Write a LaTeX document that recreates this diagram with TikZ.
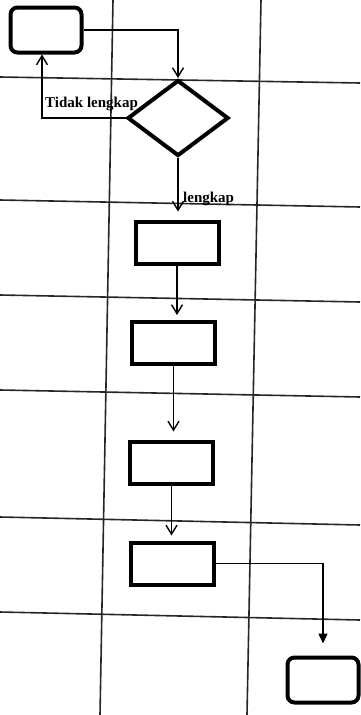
\documentclass[tikz,border=0pt]{standalone}
\usepackage{fontspec}
\setmainfont{Liberation Serif}
\usetikzlibrary{shapes.geometric,arrows.meta}
\begin{document}
\begin{tikzpicture}[x=1pt,y=-1pt,
  lane/.style={line width=1.6pt,black!85},
  boxnode/.style={draw,line width=4pt,inner sep=0pt,minimum width=83pt,minimum height=42pt},
  termnode/.style={draw,line width=4pt,rounded corners=7pt,inner sep=0pt,minimum width=71pt,minimum height=45pt},
  decnode/.style={draw,diamond,line width=4pt,inner sep=0pt,minimum width=101pt,minimum height=76pt},
  arr/.style={line width=1.5pt,-{Straight Barb[length=9pt,width=11pt,line width=1.4pt]}},
  arrf/.style={line width=1.5pt,-{Triangle[length=10pt,width=9pt]}},
  lbl/.style={font=\fontsize{15}{15}\selectfont\bfseries,inner sep=0pt}]
\useasboundingbox (0,0) rectangle (360,715);
% swimlane grid
\draw[lane] (113,0) -- (100,715);
\draw[lane] (261,0) -- (247,715);
\draw[lane] (0,77) -- (360,83);
\draw[lane] (0,200) -- (360,207);
\draw[lane] (0,295) -- (360,302);
\draw[lane] (0,390) -- (360,397);
\draw[lane] (0,517) -- (360,525);
\draw[lane] (0,612) -- (360,620);
% nodes
\node[termnode] (start) at (46,30) {};
\node[decnode] (dec) at (178,118) {};
\node[boxnode] (b1) at (177,242.5) {};
\node[boxnode] (b2) at (173.5,343) {};
\node[boxnode] (b3) at (171.5,462.5) {};
\node[boxnode] (b4) at (172.5,563.5) {};
\node[termnode] (end) at (323,680) {};
% connectors
\draw[arr] (start.east) -| (dec.north);
\draw[arr] (dec.west) -| ([xshift=-4pt]start.south);
\node[lbl,anchor=base west] (tl) at (45,107) {Tidak lengkap};
\draw[arr,shorten >=8pt] (dec.south) -- (dec.south |- b1.north);
\node[lbl,anchor=base west] (lk) at (183,202) {lengkap};
\draw[arr,shorten >=5pt] (b1.south) -- (b1.south |- b2.north);
\draw[arr,shorten >=8pt] (b2.south) -- (b2.south |- b3.north);
\draw[arr,shorten >=5pt] (b3.south) -- (b3.south |- b4.north);
\draw[arrf,shorten >=12pt] (b4.east) -| (end.north);
\end{tikzpicture}
\end{document}
